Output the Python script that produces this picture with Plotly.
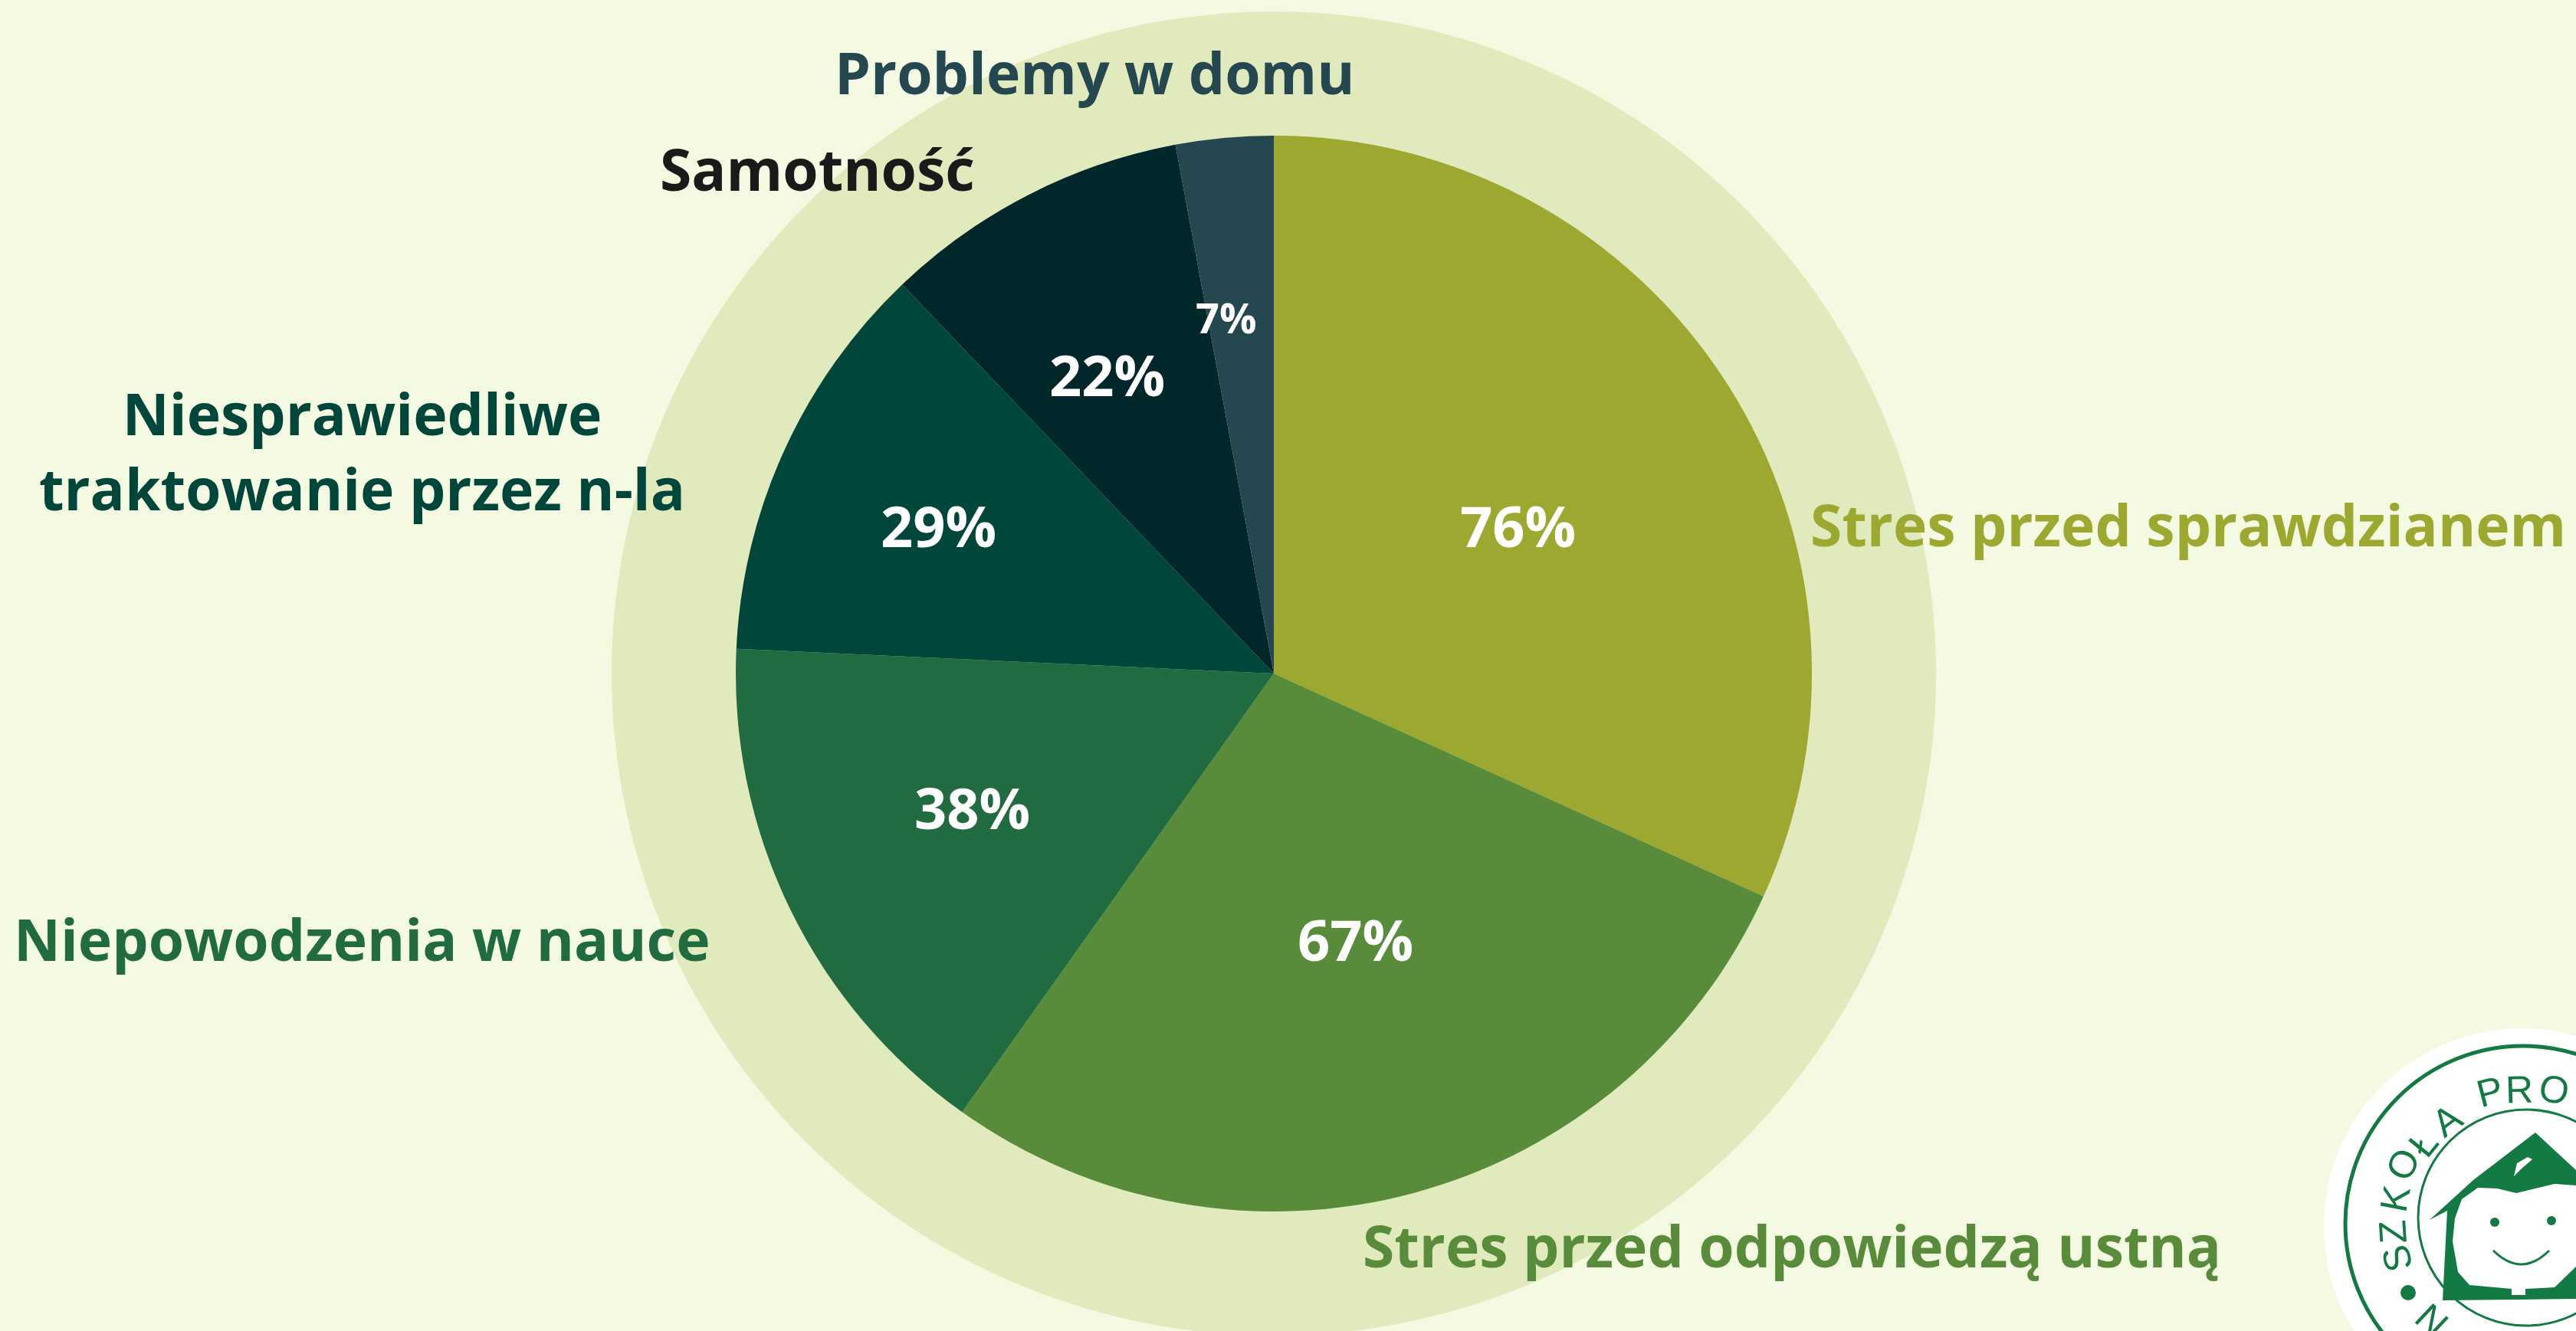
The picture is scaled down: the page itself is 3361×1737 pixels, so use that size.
import math
import plotly.graph_objects as go

W, H = 3361, 1737
CATEGORIES = ["Stres przed sprawdzianem", "Stres przed odpowiedzą ustną", "Niepowodzenia w nauce",
              "Niesprawiedliwe<br>traktowanie przez n-la", "Samotność", "Problemy w domu"]
VALUES = [76, 67, 38, 29, 22, 7]
COLORS = ["#9CA82F", "#588C3A", "#206B40", "#01463A", "#00272A", "#244750"]
LABEL_COLORS = ["#9CA82F", "#588C3A", "#206B40", "#01463A", "#1A1A1A", "#244750"]
LABEL_POS = [(2855, 684), (2338, 1625), (472, 1225), (472, 588), (1066, 220), (1428, 94)]
PCT_POS = [(1980, 685), (1768, 1225), (1268, 1053), (1224, 685), (1444, 489), (1600, 414)]
PCT_SIZE = [74, 74, 74, 74, 74, 54]
BG, RING = "#F4F9E1", "#E1EABD"
CX, CY, R_PIE, R_RING = 1662, 879, 702, 864
FONT = "Open Sans"
LOGO_GREEN = "#127A42"
LOGO_LETTERS = [("S", 3128, 1643), ("Z", 3122, 1608), ("K", 3125, 1565), ("O", 3135, 1520),
                ("Ł", 3162, 1492), ("A", 3193, 1462), ("P", 3248, 1425), ("R", 3287, 1422), ("O", 3332, 1422),
                ("N", 3173, 1723)]
LOGO_C = (3292, 1597)


def px(x):
    return x / W


def py(y):
    return 1 - y / H


def circle(cx, cy, r, layer="above", fill=None, line=None, lw=0):
    return dict(type="circle", xref="paper", yref="paper", layer=layer,
                x0=px(cx - r), x1=px(cx + r), y0=py(cy + r), y1=py(cy - r),
                fillcolor=fill or "rgba(0,0,0,0)", line=dict(color=line or "rgba(0,0,0,0)", width=lw))


def path(points, fill):
    parts = []
    for i, (x, y) in enumerate(points):
        parts.append(("M" if i == 0 else "L") + f"{px(x):.5f},{py(y):.5f}")
    return dict(type="path", xref="paper", yref="paper", layer="above",
                path=" ".join(parts) + " Z", fillcolor=fill, line=dict(width=0))


fig = go.Figure(go.Pie(
    labels=[c.replace("<br>", " ") for c in CATEGORIES], values=VALUES, sort=False, direction="clockwise",
    rotation=0, textinfo="none", hoverinfo="label+percent", showlegend=False,
    marker=dict(colors=COLORS, line=dict(width=0)),
    domain=dict(x=[px(CX - R_PIE), px(CX + R_PIE)], y=[py(CY + R_PIE), py(CY - R_PIE)]),
))

annotations = []
for text, color, (x, y) in zip(CATEGORIES, LABEL_COLORS, LABEL_POS):
    annotations.append(dict(text=f"<b>{text}</b>", x=px(x), y=py(y), xref="paper", yref="paper", showarrow=False,
                            xanchor="center", yanchor="middle", align="center",
                            font=dict(family=FONT, size=75, color=color)))
for v, s, (x, y) in zip(VALUES, PCT_SIZE, PCT_POS):
    annotations.append(dict(text=f"<b>{v}%</b>", x=px(x), y=py(y), xref="paper", yref="paper", showarrow=False,
                            xanchor="center", yanchor="middle", font=dict(family=FONT, size=s, color="white")))
for ch, x, y in LOGO_LETTERS:
    rot = math.degrees(math.atan2(x - LOGO_C[0], LOGO_C[1] - y))
    annotations.append(dict(text=ch, x=px(x), y=py(y), xref="paper", yref="paper", showarrow=False, textangle=rot,
                            xanchor="center", yanchor="middle",
                            font=dict(family="Liberation Sans", size=50, color=LOGO_GREEN)))

shapes = [
    circle(CX, CY, R_RING, layer="below", fill=RING),
    circle(3290, 1600, 258, fill="white"),
    circle(3292, 1597, 232, line=LOGO_GREEN, lw=5),
    circle(3296, 1589, 141, line=LOGO_GREEN, lw=3),
    path([(3308, 1478), (3361, 1527), (3361, 1695), (3187, 1697), (3193, 1580), (3170, 1592), (3227, 1540)], LOGO_GREEN),
    path([(3200, 1620), (3203, 1590), (3212, 1565), (3233, 1550), (3258, 1551), (3283, 1557), (3308, 1551), (3333, 1545),
          (3361, 1547), (3361, 1653), (3333, 1680), (3295, 1682), (3295, 1690), (3277, 1690), (3277, 1682),
          (3222, 1677), (3207, 1660)], "white"),
    path([(3280, 1535), (3284, 1518), (3298, 1510), (3304, 1513), (3290, 1525)], "white"),
    circle(3255, 1595, 6, fill=LOGO_GREEN),
    circle(3329, 1593, 6, fill=LOGO_GREEN),
    circle(3142, 1687, 10, fill=LOGO_GREEN),
    dict(type="path", xref="paper", yref="paper", layer="above",
         path=f"M{px(3253):.5f},{py(1632):.5f} Q{px(3290):.5f},{py(1668):.5f} {px(3326):.5f},{py(1632):.5f}",
         line=dict(color=LOGO_GREEN, width=3)),
]

fig.update_layout(width=W, height=H, autosize=False, margin=dict(l=0, r=0, t=0, b=0),
                  paper_bgcolor=BG, plot_bgcolor=BG, annotations=annotations, shapes=shapes,
                  font=dict(family=FONT))
fig.write_html("out.html", config=dict(displayModeBar=False),
               post_script="document.body.style.margin='0';document.body.style.overflow='hidden';")
